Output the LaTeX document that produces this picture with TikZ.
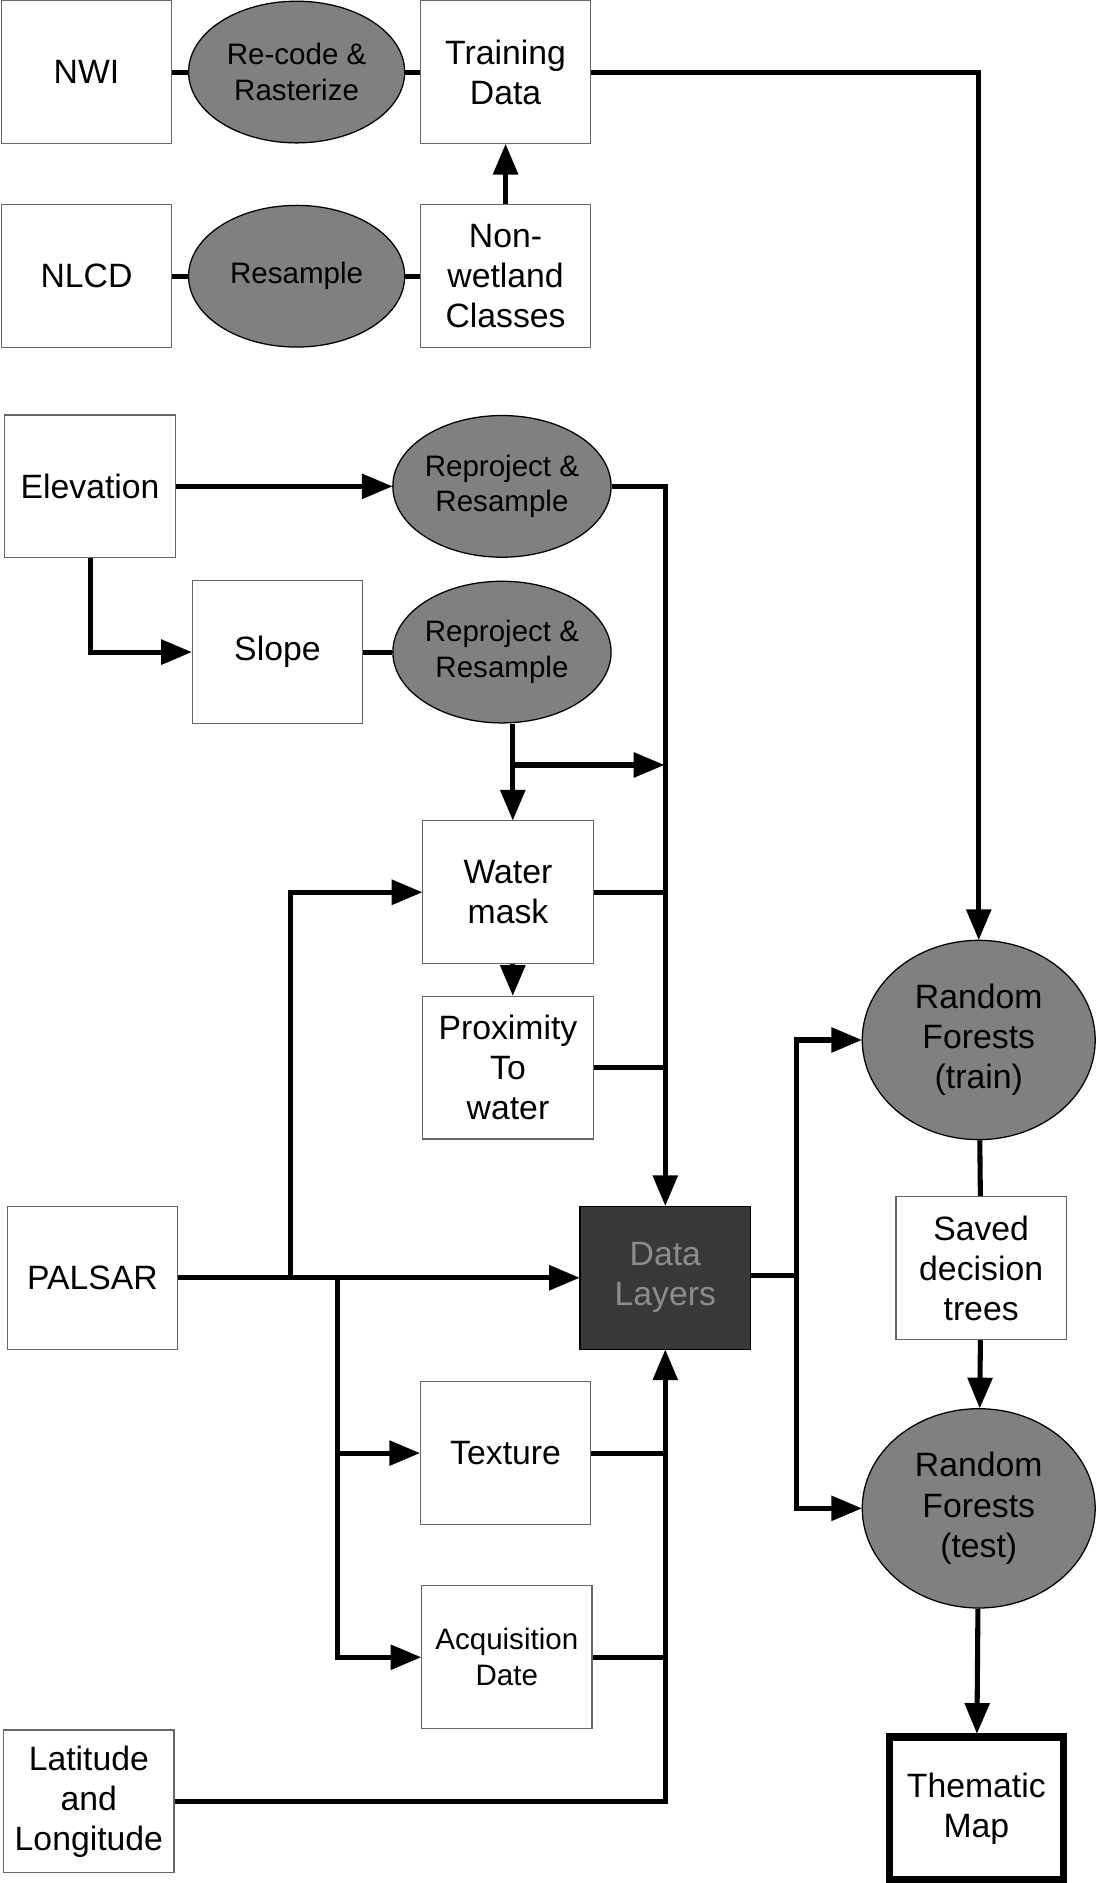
\documentclass[tikz,border=0pt]{standalone}
\usepackage{fontspec}
\setmainfont{Liberation Sans}
\usetikzlibrary{arrows,shapes.geometric,calc}

\tikzset{
  box/.style={draw=black!60,line width=0.6pt,fill=white,minimum width=2.84cm,minimum height=2.38cm,align=center,inner sep=1pt,font=\fontsize{16}{19}\selectfont},
  oval/.style={ellipse,draw=black,line width=0.6pt,fill=black!50,minimum width=3.6cm,minimum height=2.36cm,align=center,inner sep=0pt,font=\fontsize{14}{17}\selectfont},
  big/.style={oval,minimum width=3.88cm,minimum height=3.32cm,font=\fontsize{16}{19}\selectfont},
  flow/.style={line width=2.4pt,->},
  link/.style={line width=2.4pt}
}

\begin{document}
\begin{tikzpicture}[line cap=butt,line join=miter,>=triangle 45,x=0.02cm,y=-0.02cm]
		\useasboundingbox (0,0) rectangle (913,1568);
		% inputs and training data
		\node[box] (nwi) at (72,60) {NWI};
		\node[oval] (recode) at (247,60) {Re-code \&\\Rasterize};
		\node[box] (train) at (421,60) {Training\\Data};
		\node[box] (nlcd) at (72,230) {NLCD};
		\node[oval] (resample) at (247,230) {Resample};
		\node[box] (nonwet) at (421,230) {Non-\\wetland\\Classes};
		\node[box] (elev) at (75,405) {Elevation};
		\node[oval] (reproa) at (418,405) {Reproject \&\\Resample};
		\node[box] (slope) at (231,543) {Slope};
		\node[oval] (reprob) at (418,543) {Reproject \&\\Resample};
		\node[box] (water) at (423,743) {Water\\mask};
		\node[box] (prox) at (423,889) {Proximity\\To\\water};
		\node[box] (palsar) at (77,1064) {PALSAR};
		\node[box,fill=black!78,draw=black,text=black!45] (layers) at (554,1064) {Data\\Layers};
		\node[box] (texture) at (421,1210) {Texture};
		\node[box,font=\fontsize{14}{17}\selectfont] (acq) at (422,1380) {Acquisition\\Date};
		\node[box] (latlon) at (74,1500) {Latitude\\and\\Longitude};
		% classification
		\node[big] (rftrain) at (815,866) {Random\\Forests\\(train)};
		\node[box] (saved) at (817,1056) {Saved\\decision\\trees};
		\node[big] (rftest) at (815,1256) {Random\\Forests\\(test)};
		\node[box,draw=black,line width=3.5pt,minimum width=2.9cm] (map) at (813,1506) {Thematic\\Map};
		% junctions
		\coordinate (bus) at (553,405);
		\coordinate (fork) at (663,1062);
		\coordinate (pa) at (242,1064);
		\coordinate (pb) at (281,1064);
		\coordinate (rb) at (427,637);
		% connectors
		\draw[link] (nwi) -- (recode) -- (train);
		\draw[link] (nlcd) -- (resample) -- (nonwet);
		\draw[flow] (nonwet) -- (train);
		\draw[flow] (train.east) -| (rftrain.north);
		\draw[flow] (elev) -- (reproa);
		\draw[flow] (elev.south) |- (slope.west);
		\draw[link] (slope) -- (reprob);
		\draw[flow] (reproa.east) -| (layers.north);
		\draw[flow] (reprob.south -| rb) -- (water.north -| rb);
		\draw[flow] (rb) -- (rb -| bus);
		\draw[link] (water.east) -- (water.east -| bus);
		\draw[flow] (water.south -| rb) -- (prox.north -| rb);
		\draw[link] (prox.east) -- (prox.east -| bus);
		\draw[flow] (palsar) -- (layers);
		\draw[flow] (pa) |- (water.west);
		\draw[flow] (pb) |- (texture.west);
		\draw[flow] (pb) |- (acq.west);
		\draw[link] (texture.east) -- (texture.east -| bus);
		\draw[link] (acq.east) -- (acq.east -| bus);
		\draw[flow] (latlon.east) -| (layers.south);
		\draw[link] (layers.east |- fork) -- (fork);
		\draw[flow] (fork) |- (rftrain.west);
		\draw[flow] (fork) |- (rftest.west);
		\draw[link] (rftrain) -- (saved);
		\draw[flow] (saved) -- (rftest);
		\draw[flow] (rftest) -- (map);
\end{tikzpicture}
\end{document}
